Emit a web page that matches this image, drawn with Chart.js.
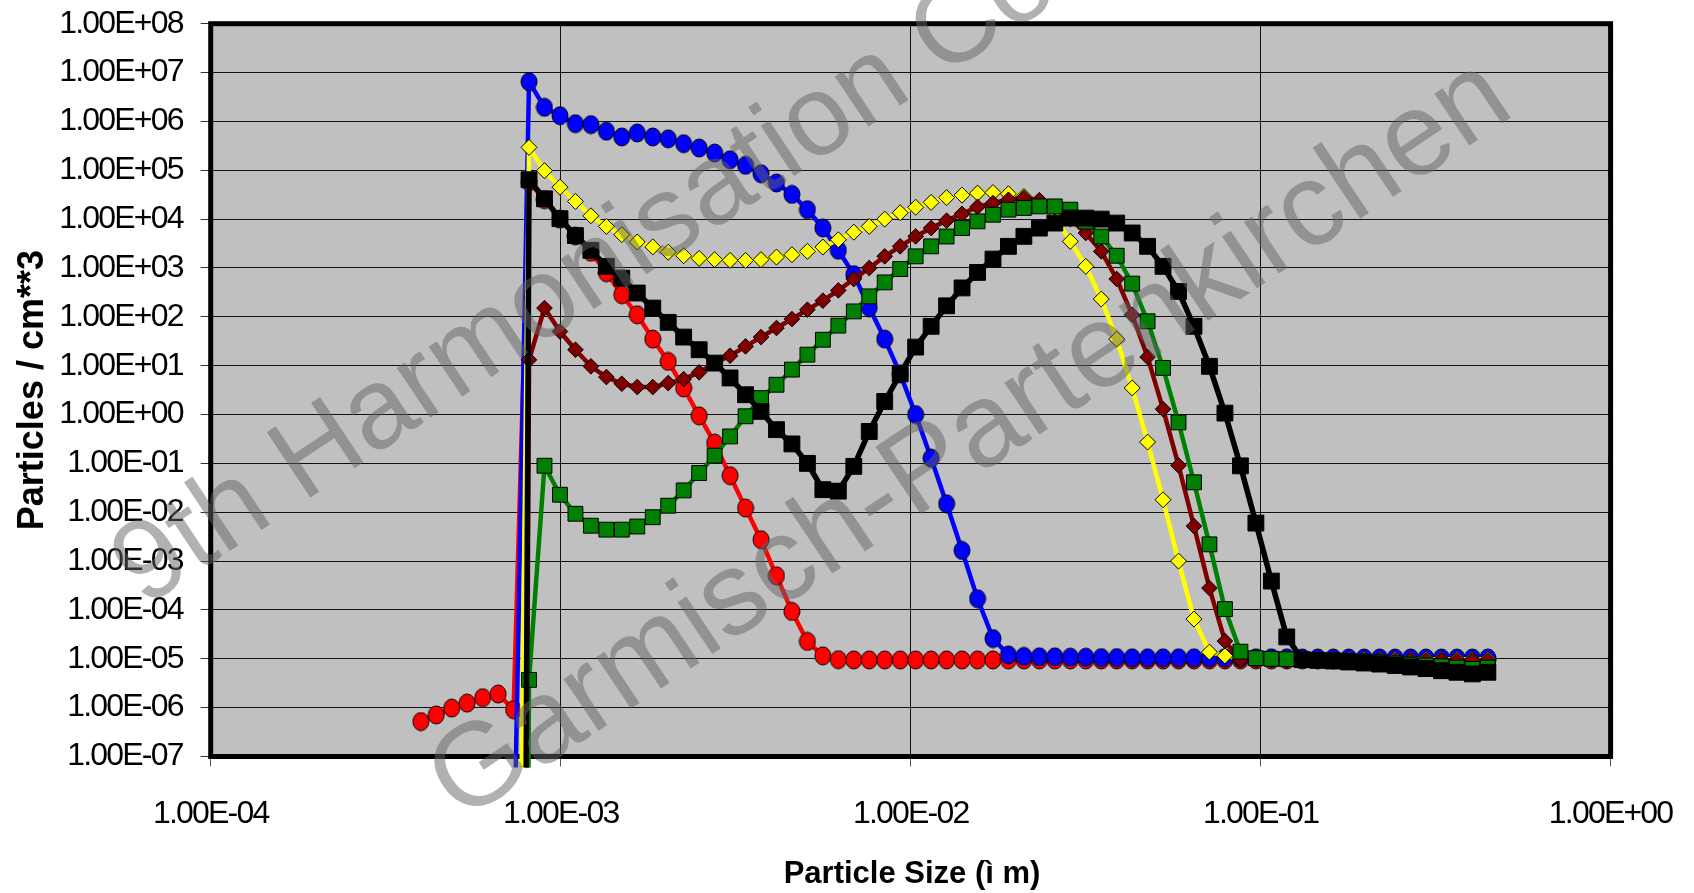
<!DOCTYPE html>
<html>
<head>
<meta charset="utf-8">
<script src="https://cdn.jsdelivr.net/npm/chart.js@4.4.1/dist/chart.umd.min.js"></script>
<style>
  body { margin: 0; background: #fff; }
  #wrap { width: 1694px; height: 893px; }
</style>
</head>
<body>
<div id="wrap"><canvas id="chart" width="1694" height="893"></canvas></div>
<script>
// particle size channels (um)
const sizes = [
  3.986e-4, 4.410e-4, 4.882e-4, 5.403e-4, 5.984e-4, 6.625e-4, 7.335e-4,
  8.120e-4, 8.990e-4, 9.954e-4, 1.102e-3, 1.220e-3, 1.351e-3, 1.495e-3, 1.655e-3, 1.833e-3, 2.029e-3,
  2.246e-3, 2.487e-3, 2.754e-3, 3.048e-3, 3.375e-3, 3.736e-3, 4.137e-3, 4.579e-3, 5.070e-3, 5.613e-3,
  6.214e-3, 6.880e-3, 7.615e-3, 8.431e-3, 9.335e-3, 1.0335e-2, 1.1442e-2, 1.2667e-2, 1.4024e-2, 1.5526e-2,
  1.7190e-2, 1.9026e-2, 2.1065e-2, 2.3322e-2, 2.5823e-2, 2.8590e-2, 3.1652e-2, 3.5043e-2, 3.8797e-2, 4.2954e-2,
  4.7534e-2, 5.2627e-2, 5.8266e-2, 6.4509e-2, 7.1420e-2, 7.9072e-2, 8.7544e-2, 9.6939e-2, 0.10732, 0.11878,
  0.13152, 0.14561, 0.16121, 0.17849, 0.19762, 0.21878, 0.24222, 0.26819, 0.29682, 0.32862,
  0.36384, 0.40282, 0.44599
];

// particles / cm**3 for each series
const blueSeries = [
  null, null, null, null, null, null, 3e-10,
  6.5e6, 1.94e6, 1.31e6, 9.0e5, 8.6e5, 6.3e5, 4.8e5, 5.8e5, 4.8e5, 4.4e5,
  3.5e5, 2.85e5, 2.25e5, 1.64e5, 1.26e5, 8.5e4, 5.5e4, 3.2e4, 1.56e4, 6.6e3,
  2.3e3, 730, 155, 35, 6.8, 1.0, 0.128, 0.0149, 1.65e-3, 1.7e-4,
  2.6e-5, 1.2e-5, 1.12e-5, 1.1e-5, 1.1e-5, 1.08e-5, 1.08e-5, 1.06e-5, 1.06e-5, 1.05e-5,
  1.05e-5, 1.05e-5, 1.05e-5, 1.05e-5, 1.05e-5, 1.05e-5, 1.05e-5, 1.05e-5, 1.05e-5, 1.05e-5,
  1.04e-5, 1.04e-5, 1.04e-5, 1.04e-5, 1.04e-5, 1.04e-5, 1.04e-5, 1.04e-5, 1.04e-5, 1.04e-5,
  1.04e-5, 1.04e-5, 1.04e-5
];
const yellowSeries = [
  null, null, null, null, null, null, 1e-21,
  2.94e5, 9.8e4, 4.5e4, 2.3e4, 1.17e4, 7.1e3, 4.8e3, 3.4e3, 2.7e3, 2.1e3,
  1.78e3, 1.57e3, 1.48e3, 1.43e3, 1.43e3, 1.48e3, 1.67e3, 1.87e3, 2.19e3, 2.68e3,
  3.78e3, 5.4e3, 7.1e3, 1.0e4, 1.35e4, 1.75e4, 2.2e4, 2.75e4, 3.1e4, 3.4e4,
  3.5e4, 3.3e4, 2.9e4, 2.0e4, 1.1e4, 3.5e3, 1.08e3, 231, 35, 3.5,
  0.273, 0.018, 1.0e-3, 6.5e-5, 1.37e-5, 1.15e-5, 1.0e-5, 9.9e-6, 9.8e-6, 9.8e-6,
  9.8e-6, 9.8e-6, 9.8e-6, 9.8e-6, 9.8e-6, 9.8e-6, 9.8e-6, 9.8e-6, 9.8e-6, 9.8e-6,
  9.8e-6, 9.8e-6, 9.8e-6
];
const blackSeries = [
  null, null, null, null, null, null, 1e-60,
  6.4e4, 2.6e4, 1.02e4, 4.6e3, 2.3e3, 1.08e3, 620, 307, 151, 77,
  38.5, 21.2, 11.3, 5.6, 2.54, 1.16, 0.49, 0.25, 0.10, 0.029,
  0.027, 0.087, 0.45, 1.85, 6.8, 24, 64, 168, 390, 810,
  1.52e3, 2.77e3, 4.44e3, 6.55e3, 8.3e3, 1.05e4, 1.05e4, 1.0e4, 8.3e3, 5.2e3,
  2.77e3, 1.08e3, 331, 64, 9.7, 1.07, 0.089, 6.0e-3, 3.9e-4, 2.8e-5,
  9.6e-6, 9.3e-6, 9.0e-6, 8.6e-6, 8.2e-6, 7.8e-6, 7.3e-6, 6.8e-6, 6.3e-6, 5.7e-6,
  5.3e-6, 4.9e-6, 5.3e-6
];
const maroonSeries = [
  null, null, null, null, null, null, 1e-60,
  13.2, 151, 50, 21.2, 9.7, 5.85, 4.27, 3.65, 3.65, 4.4,
  5.3, 7.3, 11.3, 16, 24.8, 38.5, 59, 90, 140, 214,
  348, 593, 995, 1.73e3, 2.77e3, 4.43e3, 6.56e3, 9.3e3, 1.28e4, 1.78e4,
  2.13e4, 2.49e4, 2.7e4, 2.45e4, 1.75e4, 1.0e4, 5.2e3, 2.19e3, 594, 110,
  15, 1.29, 0.091, 5.2e-3, 2.8e-4, 2.3e-5, 9.5e-6, 9.4e-6, 9.4e-6, 9.3e-6,
  9.3e-6, 9.3e-6, 9.3e-6, 9.3e-6, 9.3e-6, 9.3e-6, 9.3e-6, 9.3e-6, 9.3e-6, 9.3e-6,
  9.3e-6, 9.3e-6, 9.3e-6
];
const greenSeries = [
  null, null, null, null, null, null, 1e-60,
  3.7e-6, 0.0895, 0.0228, 9.3e-3, 5.3e-3, 4.4e-3, 4.4e-3, 5.1e-3, 7.9e-3, 0.0136,
  0.028, 0.0635, 0.144, 0.356, 0.92, 2.17, 4.07, 8.3, 16.8, 34,
  66, 129, 262, 507, 951, 1.73e3, 2.77e3, 4.4e3, 6.56e3, 9.0e3,
  1.23e4, 1.56e4, 1.69e4, 1.82e4, 1.82e4, 1.56e4, 8.9e3, 4.4e3, 1.78e3, 478,
  81, 9.0, 0.69, 0.041, 2.2e-3, 1.04e-4, 1.4e-5, 1.03e-5, 1.0e-5, 9.8e-6,
  9.6e-6, 9.4e-6, 9.2e-6, 9.0e-6, 8.7e-6, 8.4e-6, 8.0e-6, 7.6e-6, 7.3e-6, 7.0e-6,
  6.6e-6, 6.2e-6, 6.6e-6
];
const redSeries = [
  5.2e-7, 7.1e-7, 9.8e-7, 1.24e-6, 1.6e-6, 1.9e-6, 9.1e-7,
  5.8e4, 2.5e4, 1.0e4, 4.5e3, 2.1e3, 800, 283, 110, 35, 12.2,
  3.5, 0.94, 0.26, 0.056, 0.0122, 2.74e-3, 5.0e-4, 9.3e-5, 2.26e-5, 1.15e-5,
  9.6e-6, 9.5e-6, 9.5e-6, 9.5e-6, 9.5e-6, 9.5e-6, 9.5e-6, 9.5e-6, 9.5e-6, 9.5e-6,
  9.5e-6, 9.5e-6, 9.5e-6, 9.5e-6, 9.5e-6, 9.5e-6, 9.5e-6, 9.5e-6, 9.5e-6, 9.5e-6,
  9.5e-6, 9.5e-6, 9.5e-6, 9.5e-6, 9.5e-6, 9.5e-6, 9.5e-6, 9.5e-6, 9.5e-6, 9.5e-6,
  9.5e-6, 9.5e-6, 9.5e-6, 9.5e-6, 9.5e-6, 9.5e-6, 9.5e-6, 9.5e-6, 9.5e-6, 9.5e-6,
  9.5e-6, 9.5e-6, 9.5e-6
];

const xTickValues = [1e-4, 1e-3, 1e-2, 1e-1, 1];
const xTickLabels = ['1.00E-04', '1.00E-03', '1.00E-02', '1.00E-01', '1.00E+00'];
const yTickValues = [1e-7, 1e-6, 1e-5, 1e-4, 1e-3, 1e-2, 1e-1, 1, 1e1, 1e2, 1e3, 1e4, 1e5, 1e6, 1e7, 1e8];
const yTickLabels = ['1.00E-07', '1.00E-06', '1.00E-05', '1.00E-04', '1.00E-03', '1.00E-02', '1.00E-01',
  '1.00E+00', '1.00E+01', '1.00E+02', '1.00E+03', '1.00E+04', '1.00E+05', '1.00E+06', '1.00E+07', '1.00E+08'];

const FONT = '"Liberation Sans", Arial, sans-serif';
const TICK_SPACING = '-1.8px';

// the original markers are a little taller than wide, so circles are drawn as ellipses
function ellipseMarker(color, w, h) {
  const c = document.createElement('canvas');
  c.width = w + 2;
  c.height = h + 2;
  const g = c.getContext('2d');
  g.beginPath();
  g.ellipse(c.width / 2, c.height / 2, w / 2, h / 2, 0, 0, Math.PI * 2);
  g.fillStyle = color;
  g.fill();
  g.lineWidth = 1;
  g.strokeStyle = '#000';
  g.stroke();
  return c;
}

function points(ys) {
  return sizes.map((x, k) => ({ x: x, y: ys[k] }));
}

function series(ys, color, style, radius, width) {
  return {
    data: points(ys),
    borderColor: color,
    backgroundColor: color,
    borderWidth: width,
    pointStyle: style,
    pointRadius: radius,
    pointBackgroundColor: color,
    pointBorderColor: '#000',
    pointBorderWidth: 1,
    clip: { left: 0, top: 0, right: 0, bottom: 11 }
  };
}

// first dataset is drawn on top
const datasets = [
  series(blackSeries, '#000000', 'rect', 11.2, 5.5),
  series(greenSeries, '#008000', 'rect', 10.5, 4.5),
  series(maroonSeries, '#800000', 'rectRot', 7.8, 4.5),
  series(yellowSeries, '#ffff00', 'rectRot', 8, 4.5),
  series(blueSeries, '#0000ff', ellipseMarker('#0000ff', 16, 18), 8, 4.5),
  series(redSeries, '#ff0000', ellipseMarker('#ff0000', 16, 18), 8, 4.5)
];

const framePlugin = {
  id: 'frame',
  beforeLayout(chart) {
    chart.ctx.letterSpacing = TICK_SPACING;
  },
  beforeDraw(chart) {
    const { ctx, chartArea: a } = chart;
    ctx.letterSpacing = TICK_SPACING;
    ctx.save();
    ctx.fillStyle = '#c0c0c0';
    ctx.fillRect(a.left, a.top, a.right - a.left, a.bottom - a.top);
    ctx.restore();
  },
  beforeDatasetsDraw(chart) {
    const { ctx, chartArea: a } = chart;
    ctx.save();
    ctx.lineWidth = 5;
    ctx.strokeStyle = '#000';
    ctx.strokeRect(a.left, a.top, a.right - a.left, a.bottom - a.top);
    ctx.restore();
  },
  afterDatasetsDraw(chart) {
    const { ctx, chartArea: a } = chart;
    ctx.save();
    ctx.letterSpacing = '0px';
    ctx.fillStyle = '#000';
    // axis titles
    ctx.font = 'bold 31px ' + FONT;
    ctx.textAlign = 'center';
    ctx.textBaseline = 'alphabetic';
    ctx.fillText('Particle Size (\u00ec m)', 912, 883);
    ctx.save();
    ctx.translate(43, (a.top + a.bottom) / 2);
    ctx.rotate(-Math.PI / 2);
    ctx.font = 'bold 36px ' + FONT;
    ctx.fillText('Particles / cm**3', 0, 0);
    ctx.restore();

    // watermark
    ctx.fillStyle = 'rgba(100,100,100,0.5)';
    ctx.textAlign = 'left';
    ctx.save();
    ctx.translate(144, 608);
    ctx.rotate(-33.6 * Math.PI / 180);
    ctx.font = '114px ' + FONT;
    ctx.fillText('9th Harmonisation Conference', 0, 0);
    ctx.restore();
    ctx.save();
    ctx.translate(461, 823);
    ctx.rotate(-33.9 * Math.PI / 180);
    ctx.font = '118px ' + FONT;
    ctx.fillText('Garmisch-Partenkirchen', 0, 0);
    ctx.restore();
    ctx.restore();
  }
};

new Chart(document.getElementById('chart'), {
  type: 'line',
  data: { datasets: datasets },
  options: {
    responsive: false,
    animation: false,
    devicePixelRatio: 1,
    layout: { padding: { top: 23.7, right: 83.4, bottom: 0, left: 0 } },
    elements: { line: { tension: 0, borderJoinStyle: 'round' } },
    scales: {
      x: {
        type: 'logarithmic',
        min: 1e-4,
        max: 1,
        afterBuildTicks: (scale) => { scale.ticks = xTickValues.map(v => ({ value: v })); },
        afterFit: (scale) => {
          scale.height = 136.5;
          scale.paddingLeft = 0;
          scale.paddingRight = 0;
        },
        border: { display: false },
        grid: { color: '#111', lineWidth: 1, tickLength: 10, tickColor: '#555' },
        ticks: {
          autoSkip: false,
          maxRotation: 0,
          padding: 28,
          color: '#000',
          font: { family: FONT, size: 32 },
          callback: (value, index) => xTickLabels[index]
        }
      },
      y: {
        type: 'logarithmic',
        min: 1e-7,
        max: 1e8,
        afterBuildTicks: (scale) => { scale.ticks = yTickValues.map(v => ({ value: v })); },
        afterFit: (scale) => {
          scale.width = 210.7;
          scale.paddingTop = 0;
          scale.paddingBottom = 0;
        },
        border: { display: false },
        grid: { color: '#111', lineWidth: 1, tickLength: 10, tickColor: '#333' },
        ticks: {
          autoSkip: false,
          padding: 18,
          color: '#000',
          font: { family: FONT, size: 32 },
          callback: (value, index) => yTickLabels[index]
        }
      }
    },
    plugins: {
      legend: { display: false },
      tooltip: { enabled: false }
    }
  },
  plugins: [framePlugin]
});
</script>
</body>
</html>
